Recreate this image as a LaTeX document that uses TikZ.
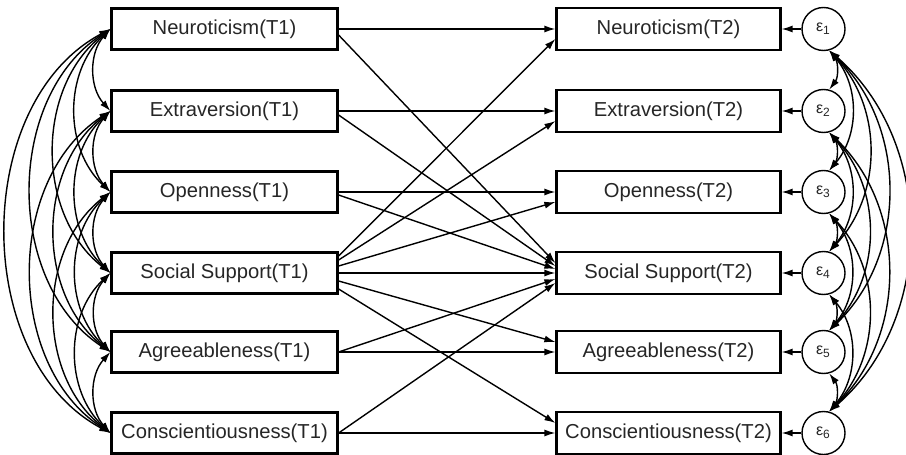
\documentclass[tikz,border=0pt]{standalone}
\usepackage{fontspec}
\setmainfont{Liberation Sans}
\usetikzlibrary{arrows.meta}

\begin{document}
\begin{tikzpicture}[x=0.5pt,y=-0.5pt,font=\fontsize{10.1}{12}\selectfont,text=black!85,
  var/.style={draw,line width=1.1pt,minimum width=113pt,minimum height=20.5pt,inner sep=0pt},
  res/.style={draw,circle,line width=0.7pt,minimum size=21.5pt,inner sep=0pt,font=\fontsize{8}{9}\selectfont},
  reg/.style={line width=0.7pt,-{Latex[length=5.5pt,width=3.5pt]}},
  cov/.style={line width=0.7pt,{Latex[length=5.5pt,width=3.5pt]}-{Latex[length=5.5pt,width=3.5pt]}}]

\useasboundingbox (0,0) rectangle (906,455);

\foreach \y/\lab [count=\i] in {29/Neuroticism,111/Extraversion,192/Openness,273/Social Support,352/Agreeableness,433/Conscientiousness}{
  \node[var] (x\i) at (224.5,\y) {\lab(T1)};
  \node[var,minimum width=112pt,minimum height=21pt] (y\i) at (668.5,\y) {\lab(T2)};
  \node[res] (e\i) at (823.5,\y) {ε\textsubscript{\i}};
  \draw[reg] (e\i) -- (y\i);
}

% paths T1 -> T2
\draw[reg] (x1.east) -- (y1.west);
\draw[reg] ([yshift=-3pt]x1.east) -- ([yshift=5pt]y4.west);
\draw[reg] (x2.east) -- (y2.west);
\draw[reg] ([yshift=-2pt]x2.east) -- ([yshift=3.5pt]y4.west);
\draw[reg] (x3.east) -- (y3.west);
\draw[reg] ([yshift=-1.5pt]x3.east) -- ([yshift=2pt]y4.west);
\draw[reg] ([yshift=8.5pt]x4.east) -- ([yshift=-5pt]y1.west);
\draw[reg] ([yshift=6.5pt]x4.east) -- ([yshift=-5pt]y2.west);
\draw[reg] ([yshift=3.5pt]x4.east) -- ([yshift=-5pt]y3.west);
\draw[reg] (x4.east) -- (y4.west);
\draw[reg] ([yshift=-4pt]x4.east) -- ([yshift=5pt]y5.west);
\draw[reg] ([yshift=-8pt]x4.east) -- ([yshift=5pt]y6.west);
\draw[reg] (x5.east) -- ([yshift=-3pt]y4.west);
\draw[reg] (x5.east) -- (y5.west);
\draw[reg] (x6.east) -- ([yshift=-5pt]y4.west);
\draw[reg] (x6.east) -- (y6.west);

% covariances
\foreach \i in {1,...,5}{
  \pgfmathtruncatemacro\k{\i+1}
  \foreach \j in {\k,...,6}{
    \pgfmathtruncatemacro\bl{37+5*(\j-\i)}
    \pgfmathtruncatemacro\br{34+3*(\j-\i)}
    \draw[cov] (x\i.west) to[bend right=\bl] (x\j.west);
    \draw[cov] (e\i.-75) to[bend left=\br] (e\j.75);
  }
}

\end{tikzpicture}
\end{document}
